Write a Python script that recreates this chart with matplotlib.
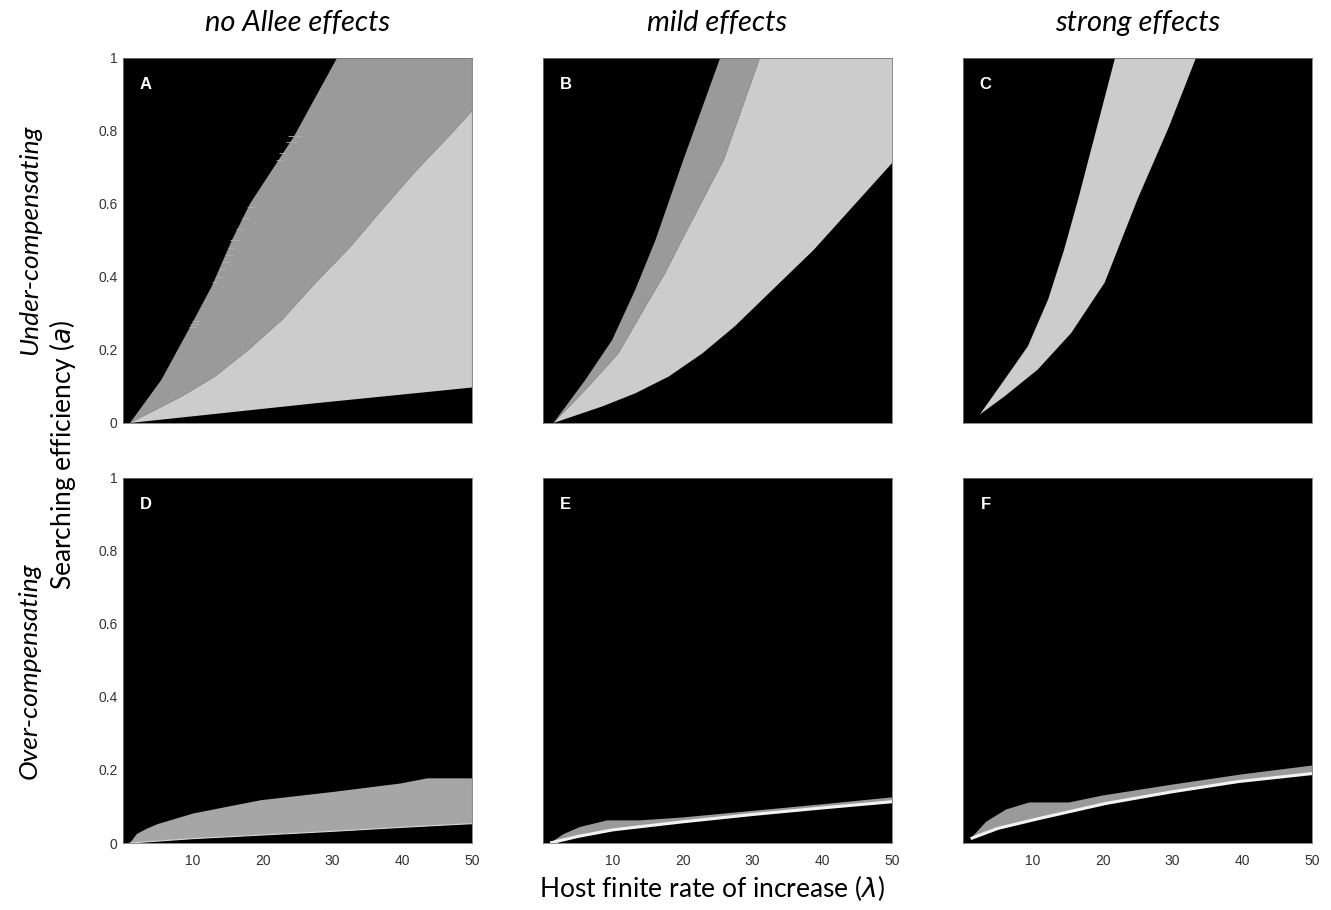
import matplotlib
matplotlib.use("Agg")
import matplotlib.pyplot as plt

# ---- data (lambda, a) ----
# Panel A: no Allee, under-compensating
A_top_x = [1, 5.5, 9.4, 12.7, 15.6, 18.2, 24.5, 30.7, 50]
A_top_y = [0, 0.118, 0.255, 0.373, 0.50, 0.60, 0.784, 1.0, 1.0]
A_mid_x = [1, 8.4, 13.2, 18.0, 22.8, 27.6, 32.5, 37.2, 42, 47, 50]
A_mid_y = [0, 0.072, 0.127, 0.20, 0.282, 0.383, 0.48, 0.585, 0.69, 0.79, 0.853]
A_low_x = [1, 27.6, 50]
A_low_y = [0, 0.054, 0.097]
# ragged stripes along the upper edge of panel A
A_stripe_y = [0.262, 0.27, 0.278, 0.385, 0.40, 0.42, 0.44, 0.46, 0.48, 0.50,
              0.53, 0.56, 0.59, 0.72, 0.74, 0.77, 0.785]
A_stripe_x0 = [9.4, 9.6, 9.9, 12.8, 13.3, 13.8, 14.2, 14.6, 15.0, 15.4,
               16.2, 17.0, 17.8, 21.9, 22.4, 23.3, 23.6]
A_stripe_x1 = [10.6, 10.8, 11.0, 13.6, 14.2, 14.8, 15.3, 15.7, 16.1, 16.6,
               17.4, 18.2, 19.0, 22.9, 23.3, 25.0, 25.6]

# Panel B: mild Allee, under-compensating
B_top_x = [1.5, 6.06, 9.9, 13.2, 16.1, 20.1, 25.4, 50]
B_top_y = [0, 0.118, 0.227, 0.364, 0.50, 0.72, 1.0, 1.0]
B_mid_x = [1.5, 6.06, 10.8, 14.7, 17.5, 19.9, 25.9, 31.1]
B_mid_y = [0, 0.09, 0.19, 0.319, 0.41, 0.50, 0.72, 1.0]
B_low_x = [1.5, 8.45, 13.2, 18.0, 22.8, 27.5, 38.8, 50]
B_low_y = [0, 0.045, 0.081, 0.127, 0.19, 0.265, 0.474, 0.711]

# Panel C: strong Allee, under-compensating
C_left_x = [2.4, 5.97, 9.3, 12.2, 14.5, 16.5, 21.8]
C_left_y = [0.023, 0.119, 0.21, 0.338, 0.475, 0.612, 1.0]
C_right_x = [2.4, 5.97, 10.7, 15.5, 20.3, 25.0, 29.5, 33.4]
C_right_y = [0.023, 0.073, 0.146, 0.246, 0.384, 0.612, 0.81, 1.0]

# Panel D: no Allee, over-compensating
D_top_x = [1, 2, 3.4, 5, 10.1, 19.7, 30.2, 39.8, 43.6, 50]
D_top_y = [0, 0.025, 0.039, 0.052, 0.081, 0.117, 0.14, 0.163, 0.177, 0.177]
D_low_x = [1, 10, 20, 30, 40, 50]
D_low_y = [0, 0.012, 0.022, 0.032, 0.043, 0.053]

# Panel E: mild Allee, over-compensating
E_top_x = [1, 3, 5.3, 9.2, 13.9, 20, 30, 40, 50]
E_top_y = [0, 0.025, 0.044, 0.062, 0.062, 0.07, 0.088, 0.106, 0.125]
E_line_x = [1, 5, 10, 20, 30, 40, 50]
E_line_y = [0, 0.018, 0.036, 0.058, 0.078, 0.096, 0.113]

# Panel F: strong Allee, over-compensating
F_top_x = [1.1, 3.3, 6.2, 9.5, 15.2, 20, 30, 40, 50]
F_top_y = [0.012, 0.058, 0.092, 0.111, 0.111, 0.13, 0.16, 0.188, 0.212]
F_line_x = [1.1, 5, 10.9, 20.4, 29.9, 39.4, 50]
F_line_y = [0.012, 0.04, 0.067, 0.108, 0.14, 0.168, 0.19]

col_titles = ["no Allee effects", "mild effects", "strong effects"]
panel_letters = ["A", "B", "C", "D", "E", "F"]
y_ticks = [0, 0.2, 0.4, 0.6, 0.8, 1]
y_ticklabels = ["0", "0.2", "0.4", "0.6", "0.8", "1"]
x_ticks = [10, 20, 30, 40, 50]

DARK = "#9a9a9a"
LIGHT = "#cccccc"
DGRAY = "#a6a6a6"
LABEL_FONT = ["Lato", "DejaVu Sans"]
TICK_FONT = "Liberation Sans"


def band(ax, x1, y1, x2, y2, color):
    # polygon: first curve forward, second curve backwards
    xs = list(x1) + list(x2)[::-1]
    ys = list(y1) + list(y2)[::-1]
    ax.fill(xs, ys, color=color, lw=0)


fig = plt.figure(figsize=(13.31, 9.10), dpi=100)
lefts = [0.0924, 0.408, 0.7235]
bottoms = [0.5352, 0.0736]
W, H = 0.2622, 0.4016

axes = []
for r in range(2):
    for c in range(3):
        ax = fig.add_axes([lefts[c], bottoms[r], W, H])
        ax.set_facecolor("black")
        ax.set_xlim(0, 50)
        ax.set_ylim(0, 1)
        for s in ax.spines.values():
            s.set_color("#777777")
            s.set_linewidth(0.6)
        ax.tick_params(length=0, labelsize=10, labelcolor="#333333")
        ax.set_yticks(y_ticks)
        ax.set_xticks(x_ticks)
        if c == 0:
            ax.set_yticklabels(y_ticklabels, fontfamily=TICK_FONT)
            ax.tick_params(axis="y", pad=4)
        else:
            ax.set_yticklabels([])
        if r == 1:
            ax.set_xticklabels([str(t) for t in x_ticks], fontfamily=TICK_FONT)
            ax.tick_params(axis="x", pad=8)
        else:
            ax.set_xticklabels([])
        ax.text(0.065, 0.925, panel_letters[r * 3 + c], transform=ax.transAxes,
                color="white", fontsize=12, fontweight="bold",
                fontfamily=TICK_FONT, ha="center", va="center")
        axes.append(ax)

axA, axB, axC, axD, axE, axF = axes

band(axA, A_top_x, A_top_y, A_mid_x, A_mid_y, DARK)
band(axA, A_mid_x, A_mid_y, A_low_x, A_low_y, LIGHT)
axA.hlines(A_stripe_y, A_stripe_x0, A_stripe_x1, color="#b0b0b0", lw=0.6)

band(axB, B_top_x, B_top_y, B_mid_x, B_mid_y, DARK)
band(axB, B_mid_x + [50], B_mid_y + [1.0], B_low_x, B_low_y, LIGHT)

band(axC, C_left_x, C_left_y, C_right_x, C_right_y, LIGHT)

band(axD, D_top_x, D_top_y, D_low_x, D_low_y, DGRAY)
axD.plot(D_low_x, D_low_y, color="#d8d8d8", lw=0.8)

band(axE, E_top_x, E_top_y, E_line_x, E_line_y, DARK)
axE.plot(E_line_x, E_line_y, color="#f2f2f2", lw=2.2, solid_capstyle="butt")

band(axF, F_top_x, F_top_y, F_line_x, F_line_y, DARK)
axF.plot(F_line_x, F_line_y, color="#f2f2f2", lw=2.2, solid_capstyle="butt")

for c in range(3):
    x_mid = lefts[c] + W / 2
    fig.text(x_mid, 0.975, col_titles[c], ha="center", va="center",
             fontsize=21, style="italic", fontfamily=LABEL_FONT)

fig.text(0.022, 0.736, "Under-compensating", rotation=90, ha="center",
         va="center", fontsize=19, style="italic", fontfamily=LABEL_FONT)
fig.text(0.022, 0.263, "Over-compensating", rotation=90, ha="center",
         va="center", fontsize=19, style="italic", fontfamily=LABEL_FONT)
fig.text(0.047, 0.5, "Searching efficiency ($a$)", rotation=90, ha="center",
         va="center", fontsize=19, fontfamily=LABEL_FONT)
fig.text(0.535, 0.024, r"Host finite rate of increase ($\lambda$)",
         ha="center", va="center", fontsize=19, fontfamily=LABEL_FONT)

fig.savefig("out.png", dpi=100)
